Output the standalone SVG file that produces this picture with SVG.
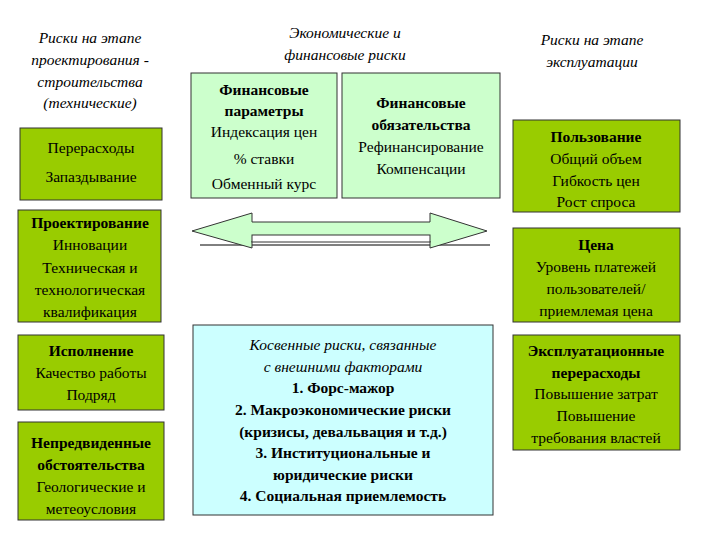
<svg xmlns="http://www.w3.org/2000/svg" width="720" height="540" viewBox="0 0 720 540" font-family="Liberation Serif, Times New Roman, serif">
<style>
text{font-family:'Liberation Serif','Times New Roman',serif;font-size:15.5px;fill:#000;text-anchor:middle}
.h{font-style:italic}
.b{font-weight:bold}
.g{fill:#99cc00;stroke:#333;stroke-width:1}
.lg{fill:#ccffcc;stroke:#333;stroke-width:1}
.c{fill:#ccffff;stroke:#333;stroke-width:1}
</style>
<rect width="720" height="540" fill="#fff"/>
<g id="hdr-left"><text class="h" x="90" y="43">Риски на этапе</text><text class="h" x="90" y="65">проектирования -</text><text class="h" x="90" y="87">строительства</text><text class="h" x="90" y="108">(технические)</text></g>
<g id="hdr-mid"><text class="h" x="345" y="38">Экономические и</text><text class="h" x="345" y="60">финансовые риски</text></g>
<g id="hdr-right"><text class="h" x="592" y="45">Риски на этапе</text><text class="h" x="592" y="67">эксплуатации</text></g>
<g id="n1"><rect class="g" x="20" y="128" width="142" height="72"/><text x="91" y="153">Перерасходы</text><text x="91" y="182">Запаздывание</text></g>
<g id="n2"><rect class="g" x="18" y="210" width="143" height="112"/><text class="b" x="90" y="228">Проектирование</text><text x="90" y="250">Инновации</text><text x="90" y="273">Техническая и</text><text x="90" y="295">технологическая</text><text x="90" y="317">квалификация</text></g>
<g id="n3"><rect class="g" x="18" y="335" width="146" height="75"/><text class="b" x="91" y="356">Исполнение</text><text x="91" y="378">Качество работы</text><text x="91" y="400">Подряд</text></g>
<g id="n4"><rect class="g" x="18" y="422" width="146" height="98"/><text class="b" x="91" y="448">Непредвиденные</text><text class="b" x="91" y="470">обстоятельства</text><text x="91" y="492">Геологические и</text><text x="91" y="514">метеоусловия</text></g>
<g id="n5"><rect class="lg" x="191" y="73" width="146" height="125"/><text class="b" x="264" y="95">Финансовые</text><text class="b" x="264" y="116">параметры</text><text x="264" y="137">Индексация цен</text><text x="264" y="164">% ставки</text><text x="264" y="189">Обменный курс</text></g>
<g id="n6"><rect class="lg" x="342" y="73" width="158" height="125"/><text class="b" x="421" y="108">Финансовые</text><text class="b" x="421" y="130">обязательства</text><text x="421" y="152">Рефинансирование</text><text x="421" y="174">Компенсации</text></g>
<g id="n7"><rect class="g" x="513" y="120" width="167" height="92"/><text class="b" x="596" y="142">Пользование</text><text x="596" y="164">Общий объем</text><text x="596" y="186">Гибкость цен</text><text x="596" y="207">Рост спроса</text></g>
<g id="n8"><rect class="g" x="513" y="228" width="167" height="94"/><text class="b" x="596" y="250">Цена</text><text x="596" y="272">Уровень платежей</text><text x="596" y="294">пользователей/</text><text x="596" y="316">приемлемая цена</text></g>
<g id="n9"><rect class="g" x="513" y="335" width="167" height="115"/><text class="b" x="596" y="356">Эксплуатационные</text><text class="b" x="596" y="378">перерасходы</text><text x="596" y="399">Повышение затрат</text><text x="596" y="421">Повышение</text><text x="596" y="443">требования властей</text></g>
<g id="n10"><rect class="c" x="193" y="325" width="300" height="190"/><text class="h" x="343" y="350">Косвенные риски, связанные</text><text class="h" x="343" y="372">с внешними факторами</text><text class="b" x="343" y="393">1. Форс-мажор</text><text class="b" x="343" y="415">2. Макроэкономические риски</text><text class="b" x="343" y="437">(кризисы, девальвация и т.д.)</text><text class="b" x="343" y="458">3. Институциональные и</text><text class="b" x="343" y="480">юридические риски</text><text class="b" x="343" y="501">4. Социальная приемлемость</text></g>
<g id="connectors">
<line x1="200" y1="245" x2="490" y2="245" stroke="#000" stroke-width="1"/>
<polygon points="192,231 252,213 252,222 430,222 430,213 487,231 430,248 430,241 252,241 252,248" fill="#ccffcc" stroke="#333" stroke-width="1"/>
<rect x="252" y="235" width="178" height="7" fill="#fff" stroke="#333" stroke-width="1"/>
</g>
</svg>
